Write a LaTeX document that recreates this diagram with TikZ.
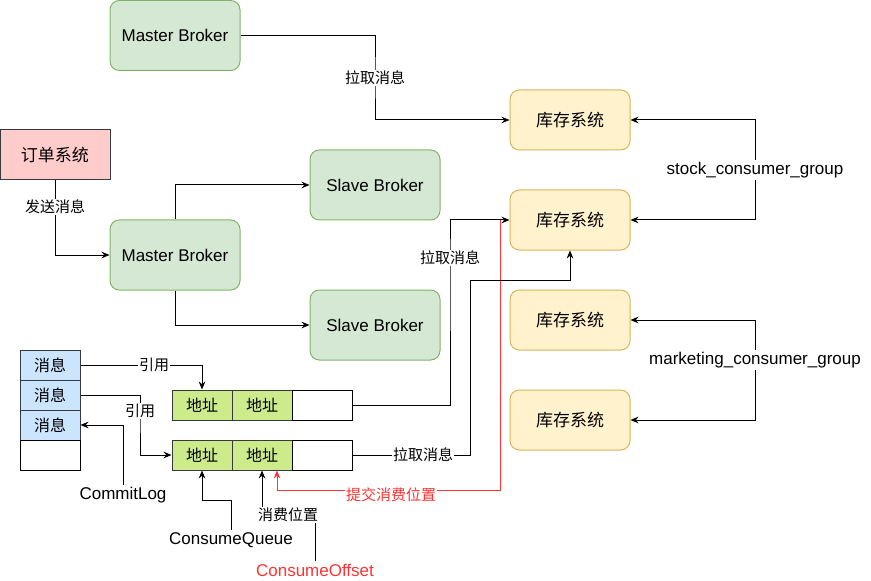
\documentclass[tikz,border=0pt]{standalone}
\usepackage{fontspec}
\setmainfont{Liberation Sans}
\newfontfamily\cjk{Noto Sans CJK SC}
\usetikzlibrary{arrows.meta,calc}
\definecolor{gfill}{HTML}{D5E8D4}
\definecolor{gline}{HTML}{82B366}
\definecolor{yfill}{HTML}{FFF2CC}
\definecolor{yline}{HTML}{D6B656}
\definecolor{pfill}{HTML}{FFCCCC}
\definecolor{dline}{HTML}{36393D}
\definecolor{bfill}{HTML}{CCE5FF}
\definecolor{cfill}{HTML}{CDEB8B}
\definecolor{redc}{HTML}{FF3333}
\tikzset{
  broker/.style={draw=gline,fill=gfill,rounded corners=7pt,minimum width=97.5pt,minimum height=52.5pt,inner sep=0pt,font=\fontsize{12.75pt}{15pt}\selectfont},
  stockbox/.style={draw=yline,fill=yfill,rounded corners=7pt,minimum width=90pt,minimum height=45pt,inner sep=0pt,font=\cjk\fontsize{12.75pt}{15pt}\selectfont},
  orderbox/.style={draw=dline,fill=pfill,minimum width=82.5pt,minimum height=37.5pt,inner sep=0pt,font=\cjk\fontsize{12.75pt}{15pt}\selectfont},
  msgcell/.style={draw=dline,fill=bfill,minimum width=45pt,minimum height=22.5pt,inner sep=0pt,font=\cjk\fontsize{12pt}{14pt}\selectfont},
  emptycell/.style={draw=black,fill=white,minimum width=45pt,minimum height=22.5pt,inner sep=0pt},
  addrcell/.style={draw=dline,fill=cfill,minimum width=45pt,minimum height=22.5pt,inner sep=0pt,font=\cjk\fontsize{12pt}{14pt}\selectfont},
  lbl/.style={fill=white,inner sep=1pt,font=\cjk\fontsize{11.25pt}{13pt}\selectfont},
  txt/.style={fill=white,inner sep=1.5pt,font=\fontsize{12.75pt}{15pt}\selectfont},
  arr/.style={draw=black,line width=0.75pt,-{Stealth[length=6pt,width=5pt,inset=2pt]}},
  redarr/.style={draw=redc,line width=0.75pt,-{Stealth[length=6pt,width=5pt,inset=2pt]}},
}
\begin{document}
\begin{tikzpicture}[x=0.75pt,y=-0.75pt,line width=0.75pt]
\useasboundingbox (0,0) rectangle (871,581);
% brokers
\node[broker] (m1) at (175,35.5) {Master Broker};
\node[orderbox] (order) at (55,155) {订单系统};
\node[broker] (s1) at (375,185) {Slave Broker};
\node[broker] (m2) at (175,255) {Master Broker};
\node[broker] (s2) at (375,325) {Slave Broker};
% stock systems
\node[stockbox] (k1) at (570,120) {库存系统};
\node[stockbox] (k2) at (570,220) {库存系统};
\node[stockbox] (k3) at (570,320) {库存系统};
\node[stockbox] (k4) at (570,420) {库存系统};
% commit log
\node[msgcell] (c1) at (50,365) {消息};
\node[msgcell] (c2) at (50,395) {消息};
\node[msgcell] (c3) at (50,425) {消息};
\node[emptycell] (c4) at (50,455) {};
% consume queues
\node[addrcell] (q1a) at (202,405) {地址};
\node[addrcell] (q1b) at (262,405) {地址};
\node[emptycell] (q1c) at (322,405) {};
\node[addrcell] (q2a) at (202,455) {地址};
\node[addrcell] (q2b) at (262,455) {地址};
\node[emptycell] (q2c) at (322,455) {};
% group labels
\node[txt] (sg) at (755,170) {stock\_consumer\_group};
\node[txt] (mg) at (755,360) {marketing\_consumer\_group};
\node[txt] (cl) at (123,495) {CommitLog};
\node[txt] (cq) at (231,540) {ConsumeQueue};
\node[txt,text=redc] (coff) at (315,570) {ConsumeOffset};
% edges
\coordinate (j1) at (375,78);
\draw[arr] (m1.east) -| (j1) |- (k1.west);
\node[lbl] (l1) at (j1) {拉取消息};
\draw[arr] (order.south) |- (m2.west);
\node[lbl] (l2) at (55,207) {发送消息};
\draw[arr] (m2.north) |- (s1.west);
\draw[arr] (m2.south) |- (s2.west);
\draw[arr] (sg.north) |- (k1.east);
\draw[arr] (sg.south) |- (k2.east);
\draw[arr] (mg.north) |- (k3.east);
\draw[arr] (mg.south) |- (k4.east);
% red commit offset
\coordinate (rs) at (500,220);
\draw[redarr] (rs) |- ($(q2b.south)+(15,20)$) -- ($(q2b.south)+(15,0)$);
\node[lbl,text=redc] (l3) at (391,495) {提交消费位置};
% pulls
\coordinate (p1) at (450,258);
\draw[arr] (q1c.east) -| (p1) |- (k2.west);
\node[lbl] (l4) at (p1) {拉取消息};
\coordinate (p2) at (470,280);
\draw[arr] (q2c.east) -| (p2) -| (k2.south);
\node[lbl] (l5) at (423,455) {拉取消息};
% references
\draw[arr] (c1.east) -| (q1a.north);
\node[lbl] (l6) at (154,365) {引用};
\coordinate (r2) at (140,411);
\draw[arr] (c2.east) -| (r2) |- (q2a.west);
\node[lbl] (l7) at (r2) {引用};
\draw[arr] (cl.north) |- (c3.east);
\draw[arr] (cq.north) |- ($(q2a.south)+(0,30)$) -- (q2a.south);
\draw[arr] (coff.north) |- ($(q2b.south)+(0,45)$) -- (q2b.south);
\node[lbl] (l8) at (288,515) {消费位置};
\end{tikzpicture}
\end{document}
